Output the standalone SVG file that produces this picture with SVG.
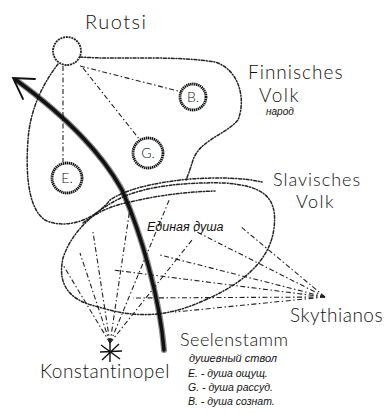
<svg xmlns="http://www.w3.org/2000/svg" width="390" height="414" viewBox="0 0 390 414">
<style>
.hand{font-family:"Lato","Liberation Sans","DejaVu Sans",sans-serif;font-weight:300;fill:#111}
.it{font-family:"Liberation Sans","DejaVu Sans",sans-serif;font-style:italic;fill:#111}
.loop{fill:none;stroke:#222;stroke-width:1.5;stroke-dasharray:3 1.8 1 1.8;stroke-linecap:round}
.ray{fill:none;stroke:#222;stroke-width:1.1;stroke-dasharray:5 2.5 1.5 2.5}
.soul{fill:#fff;stroke:#111;stroke-width:2.8;stroke-dasharray:1.4 0.6}
.trunk{fill:none;stroke:#111;stroke-linecap:round}
</style>
<rect width="390" height="414" fill="#fff"/>
<g id="connectors">
<path class="ray" d="M80,66 L182,92"/>
<path class="ray" d="M83,68 L140,140"/>
<path class="ray" d="M63,66 L63,162"/>
<path class="loop" d="M80,57 C120,60 170,55 215,62 C240,70 246,100 238,120 C225,135 200,140 193,160 C190,170 188,175 186,180"/>
<path class="loop" d="M58,64 C42,85 30,110 28,140 C25,180 30,210 45,220 C60,228 90,225 110,200 C125,190 150,183 190,179 C220,177 245,178 262,182"/>
<path class="loop" d="M205,300 C240,285 270,262 274,228 C278,196 262,186 225,183 C185,182 150,186 125,196 C98,208 72,230 63,258 C57,285 70,300 95,306 C128,316 160,321 205,300"/>
<path class="loop" d="M83,223 C100,210 115,205 130,202 C160,195 185,192 215,191"/>
<path class="ray" d="M325,297 L193,230"/>
<path class="ray" d="M325,297 L240,226"/>
<path class="ray" d="M325,297 L160,255"/>
<path class="ray" d="M325,297 L113,270"/>
<path class="ray" d="M325,297 L133,298"/>
<path class="ray" d="M325,297 L175,312"/>
<path class="ray" d="M110,343 L80,253"/>
<path class="ray" d="M110,343 L93,232"/>
<path class="ray" d="M110,343 L130,208"/>
<path class="ray" d="M110,343 L170,198"/>
<path class="ray" d="M110,343 L192,240"/>
<path class="ray" d="M110,343 L63,265"/>
<path class="trunk" stroke-width="3.5" d="M164,350 C160,300 142,235 122,190 C100,150 60,112 16,80"/>
<path class="trunk" stroke-width="6" stroke-dasharray="1 1.5" d="M164,350 C160,300 142,235 122,190 C100,150 60,112 16,80" opacity="0.5"/>
<path class="trunk" stroke-width="1.8" d="M35,79 L13,78 L23,99"/>
</g>
<g id="ruotsi"><circle cx="67" cy="51" r="14" fill="none" stroke="#222" stroke-width="1.8" stroke-dasharray="2 0.8"/>
<text class="hand" x="85" y="29" font-size="20" letter-spacing="1.5">Ruotsi</text></g>
<g id="B"><circle class="soul" cx="193" cy="97" r="13"/><text class="hand" x="193" y="102" font-size="14" text-anchor="middle">B.</text></g>
<g id="G"><circle class="soul" cx="148" cy="153" r="15"/><text class="hand" x="148" y="158" font-size="14" text-anchor="middle">G.</text></g>
<g id="E"><circle class="soul" cx="67" cy="178" r="15"/><text class="hand" x="67" y="183" font-size="14" text-anchor="middle">E.</text></g>
<g id="finnisches"><text class="hand" x="248" y="79" font-size="19" letter-spacing="1">Finnisches</text>
<text class="hand" x="259" y="102" font-size="19" letter-spacing="1.5">Volk</text>
<text class="it" x="266" y="115" font-size="10">народ</text></g>
<g id="slavisches"><text class="hand" x="273" y="186" font-size="18" letter-spacing="1">Slavisches</text>
<text class="hand" x="296" y="208" font-size="18" letter-spacing="1.5">Volk</text></g>
<g id="edinaya"><text class="it" x="147" y="231" font-size="12.5">Единая душа</text></g>
<g id="skythianos"><text class="hand" x="290" y="322" font-size="19" letter-spacing="0.5">Skythianos</text></g>
<g id="seelenstamm"><text class="hand" x="180" y="346" font-size="18" letter-spacing="0.5">Seelenstamm</text>
<text class="it" x="189" y="362" font-size="11">душевный ствол</text></g>
<g id="legend"><text class="it" x="188" y="377" font-size="10.5">E. - душа ощущ.</text>
<text class="it" x="188" y="391" font-size="10.5">G. - душа рассуд.</text>
<text class="it" x="188" y="405" font-size="10.5">B. - душа сознат.</text></g>
<g id="konstantinopel"><path d="M101,345 L120,359 M119,344 L102,360 M110,342 L110,362 M100,352 L122,351" stroke="#111" stroke-width="1.4" fill="none"/>
<text class="hand" x="40" y="378" font-size="19" letter-spacing="0.5">Konstantinopel</text></g>
</svg>
